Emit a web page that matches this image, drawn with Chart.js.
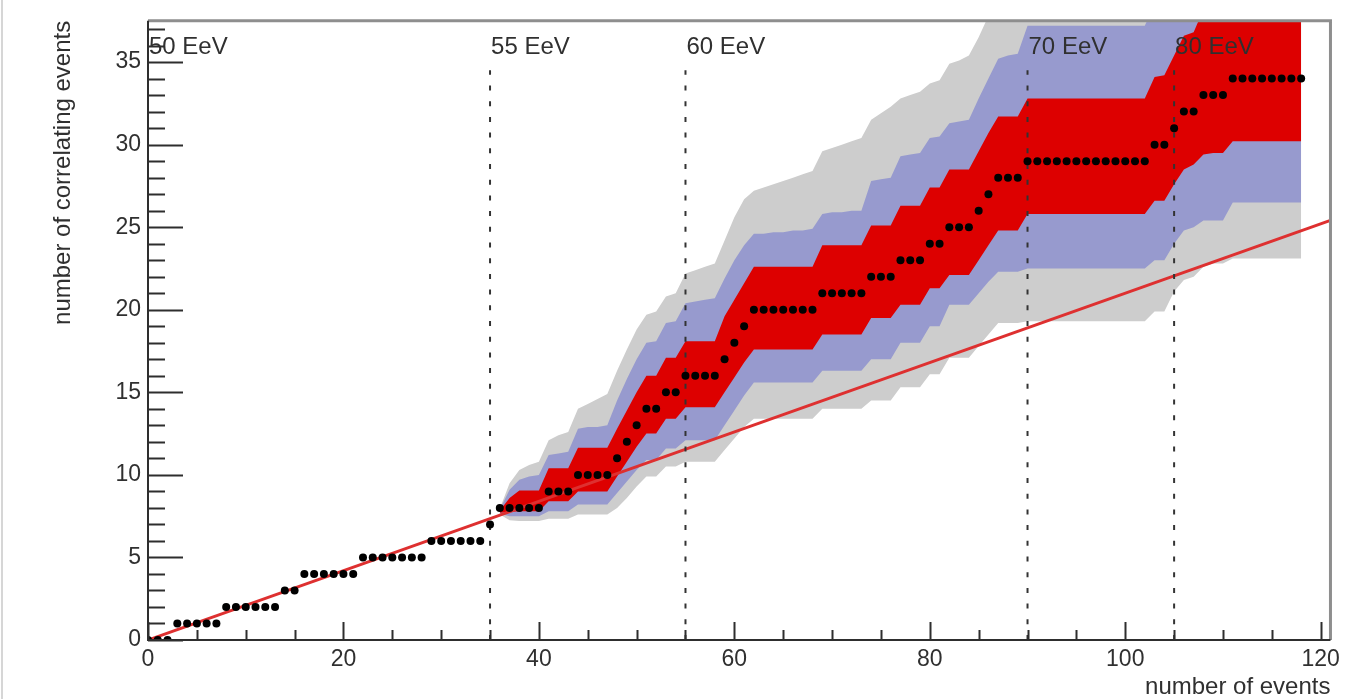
<!DOCTYPE html>
<html><head><meta charset="utf-8">
<script src="https://cdn.jsdelivr.net/npm/chart.js@4.4.1/dist/chart.umd.min.js"></script>
<style>html,body{margin:0;padding:0;background:#fff;overflow:hidden}</style>
</head><body>
<canvas id="c" width="1346" height="699"></canvas>
<script>
// ---- data (x = event index, 0..118) ----
const correlating = [
  0,0,0, 1,1,1,1,1, 2,2,2,2,2,2, 3,3, 4,4,4,4,4,4, 5,5,5,5,5,5,5, 6,6,6,6,6,6,
  7, 8,8,8,8,8, 9,9,9, 10,10,10,10, 11, 12, 13, 14,14, 15,15, 16,16,16,16,
  17, 18, 19, 20,20,20,20,20,20,20, 21,21,21,21,21, 22,22,22, 23,23,23, 24,24,
  25,25,25, 26, 27, 28,28,28, 29,29,29,29,29,29,29,29,29,29,29,29,29,
  30,30, 31, 32,32, 33,33,33, 34,34,34,34,34,34,34,34
];
// confidence bands, for x = 36 .. 118
const bandStart = 36;
const redLo = [7.7,7.75,7.8,7.8,7.8, 8.4,8.4,8.4, 9.0,9.0,9.0,9.0, 9.9, 10.8, 11.7, 12.5,12.5, 13.4,13.4,
  14.1,14.1,14.1,14.1, 15.0, 15.9, 16.8, 17.6,17.6,17.6,17.6,17.6,17.6,17.6, 18.5,18.5,18.5,18.5,18.5,
  19.5,19.5,19.5, 20.3,20.3,20.3, 21.3,21.3, 22.1,22.1,22.1, 23.0, 23.9, 24.8,24.8,24.8,
  25.8,25.8,25.8,25.8,25.8,25.8,25.8,25.8,25.8,25.8,25.8,25.8,25.8, 26.6,26.6, 27.6, 28.5,28.8,
  29.4,29.5,29.5, 30.2,30.2,30.2,30.2,30.2,30.2,30.2,30.2];
const redHi = [7.85,8.6,9.05,9.05,9.05, 10.4,10.4,10.4, 11.65,11.65,11.65,11.65, 12.8, 13.9, 15.0, 16.0,16.0, 17.1,17.1,
  18.1,18.1,18.1,18.1, 19.6, 20.6, 21.6, 22.6,22.6,22.6,22.6,22.6,22.6,22.6, 23.9,23.9,23.9,23.9,23.9,
  25.1,25.1,25.1, 26.3,26.3,26.3, 27.4,27.4, 28.5,28.5,28.5, 29.6, 30.7, 31.7,31.7,31.7,
  32.8,32.8,32.8,32.8,32.8,32.8,32.8,32.8,32.8,32.8,32.8,32.8,32.8, 34.1,34.2, 35.4, 36.6,36.8,
  38.2,38.3,38.4, 39.5,39.5,39.5,39.5,39.5,39.5,39.5,39.5];
const blueLo = [7.65,7.5,7.5,7.5,7.5, 7.8,7.8,7.8, 8.2,8.2,8.2,8.2, 8.9, 9.6, 10.3, 10.9,10.9, 11.6,11.6,
  12.1,12.1,12.1,12.1, 13.0, 13.9, 14.8, 15.6,15.6,15.6,15.6,15.6,15.6,15.6, 16.3,16.3,16.3,16.3,16.3,
  17.0,17.0,17.0, 18.0,18.0,18.0, 19.0,19.0, 20.3,20.3,20.3, 21.0, 21.7, 22.3,22.3,22.3,
  22.5,22.5,22.5,22.5,22.5,22.5,22.5,22.5,22.5,22.5,22.5,22.5,22.5, 23.0,23.0, 24.0, 24.8,25.0,
  25.4,25.4,25.4, 26.5,26.5,26.5,26.5,26.5,26.5,26.5,26.5];
const blueHi = [7.9,9.1,9.7,9.9,10.0, 11.2,11.3,11.4, 12.8,12.9,12.9,13.0, 14.5, 15.8, 17.0, 18.0,18.1, 19.2,19.3,
  20.4,20.5,20.6,20.7, 21.9, 23.0, 23.9, 24.6,24.6,24.7,24.7,24.8,24.8,24.9, 25.8,25.9,25.9,26.0,26.0,
  27.8,27.9,28.0, 29.3,29.4,29.5, 30.4,30.5, 31.3,31.4,31.5, 32.8, 34.0, 35.2,35.4,35.5,
  37.2,37.2,37.2,37.2,37.2,37.2,37.2,37.2,37.2,37.2,37.2,37.2,37.2, 38.5,38.6, 39.8, 41.0,41.2,
  42.4,42.5,42.6, 43.7,43.7,43.7,43.7,43.7,43.7,43.7,43.7];
const greyLo = [7.6,7.25,7.2,7.2,7.2, 7.35,7.35,7.35, 7.6,7.6,7.6,7.6, 8.0, 8.6, 9.3, 9.9,9.9, 10.5,10.5,
  10.8,10.8,10.8,10.8, 11.5, 12.2, 12.9, 13.4,13.4,13.4,13.4,13.4,13.4,13.4, 14.0,14.0,14.0,14.0,14.0,
  14.5,14.5,14.5, 15.3,15.3,15.3, 16.1,16.1, 17.1,17.1,17.1, 17.8, 18.5, 19.2,19.2,19.2,
  19.3,19.3,19.3,19.3,19.3,19.3,19.3,19.3,19.3,19.3,19.3,19.3,19.3, 19.9,19.9, 21.1, 21.8,22.0,
  22.6,22.8,22.8, 23.1,23.1,23.1,23.1,23.1,23.1,23.1,23.1];
const greyHi = [7.95,9.5,10.3,10.6,10.8, 12.1,12.4,12.6, 14.0,14.3,14.6,14.9, 16.3, 17.6, 18.8, 19.7,19.9, 20.8,21.0,
  22.2,22.4,22.6,22.8, 24.2, 25.6, 26.7, 27.2,27.4,27.6,27.8,28.0,28.2,28.4, 29.6,29.8,30.0,30.2,30.4,
  31.5,31.9,32.3, 32.8,33.0,33.2, 33.7,33.9, 34.9,35.1,35.4, 36.5, 37.8, 39.0,39.2,39.4,
  41,41,41,41,41,41,41,41,41,41,41,41,41, 42,42, 43, 44,44,
  45,45,45, 46,46,46,46,46,46,46,46];
// isotropic expectation line (end points)
const isoX = [0, 121];
const isoY = [0, 25.41];
// energy thresholds
const energyX = [0, 35, 55, 90, 105];
const energyLabels = ['50 EeV', '55 EeV', '60 EeV', '70 EeV', '80 EeV'];
const energyLineTop = 34.5;
const energyLabelY = 35.5;
// axes
const xMin = 0, xMax = 121, xMajor = 20, xMinor = 5;
const yMin = 0, yMax = 37.5, yMajor = 5, yMinor = 1;

const pts = (arr, start) => arr.map((v, i) => ({x: start + i, y: v}));
const FONT = "'Liberation Sans', Arial, Helvetica, sans-serif";
const TXT = '#303030';

const datasets = [
  {label:'data', data: pts(correlating, 0), showLine:false, pointRadius:4, pointHoverRadius:4,
   pointBackgroundColor:'#000', pointBorderWidth:0, order:0},
  {label:'iso', data: isoX.map((x,i)=>({x, y: isoY[i]})), borderColor:'rgb(222,48,48)', borderWidth:3,
   pointRadius:0, fill:false, order:1},
];
energyX.forEach((ex) => {
  datasets.push({label:'E', data:[{x:ex,y:0},{x:ex,y:energyLineTop}], borderColor:'#333', borderWidth:2,
    borderDash:[5,10.7], pointRadius:0, fill:false, order:0.5});
});
const bandStyle = [
  ['red', redLo, redHi, 'rgb(221,0,0)', 3],
  ['blue', blueLo, blueHi, 'rgb(151,154,206)', 4],
  ['grey', greyLo, greyHi, 'rgb(205,205,205)', 5],
];
bandStyle.forEach(([name, lo, hi, col, ord]) => {
  const loIdx = datasets.length;
  datasets.push({label: name+'Lo', data: pts(lo, bandStart), borderWidth:0, pointRadius:0, fill:false, order:ord});
  datasets.push({label: name+'Hi', data: pts(hi, bandStart), borderWidth:0, pointRadius:0,
    fill:{target: loIdx}, backgroundColor: col, order:ord});
});

const decor = {
  id:'decor',
  beforeDraw(chart){
    const c = chart.ctx; c.save();
    c.fillStyle='#fff'; c.fillRect(0,0,chart.width,chart.height);
    c.fillStyle='#d6d6d6'; c.fillRect(1,0,2,chart.height);
    c.restore();
  },
  afterDatasetsDraw(chart){
    const c = chart.ctx, a = chart.chartArea, X = chart.scales.x, Y = chart.scales.y;
    c.save();
    // top & right frame
    c.strokeStyle='#8e8e8e'; c.lineWidth=3;
    c.beginPath(); c.moveTo(a.left, a.top); c.lineTo(a.right, a.top); c.lineTo(a.right, a.bottom); c.stroke();
    // axes
    c.strokeStyle='#2e2e2e'; c.lineWidth=2;
    c.beginPath(); c.moveTo(a.left, a.top); c.lineTo(a.left, a.bottom); c.lineTo(a.right, a.bottom); c.stroke();
    // ticks
    c.beginPath();
    for (let i = 0; i * yMinor <= yMax; i++) {
      const v = i * yMinor, py = Math.round(Y.getPixelForValue(v)) + 0.5;
      const len = (Math.abs(v % yMajor) < 1e-9) ? 35 : 17;
      c.moveTo(a.left, py); c.lineTo(a.left + len, py);
    }
    for (let i = 0; i * xMinor <= xMax; i++) {
      const v = i * xMinor, px = Math.round(X.getPixelForValue(v)) + 0.5;
      const len = (Math.abs(v % xMajor) < 1e-9) ? 18 : 10;
      c.moveTo(px, a.bottom); c.lineTo(px, a.bottom - len);
    }
    c.stroke();
    // energy labels
    c.fillStyle = TXT; c.font = '24px ' + FONT; c.textAlign='left'; c.textBaseline='alphabetic';
    energyX.forEach((ex, i) => {
      c.fillText(energyLabels[i], X.getPixelForValue(ex) + 1, Y.getPixelForValue(energyLabelY));
    });
    c.restore();
  }
};

new Chart(document.getElementById('c'), {
  type:'line',
  data:{datasets},
  plugins:[decor],
  options:{
    responsive:false, animation:false, devicePixelRatio:1,
    layout:{padding:{left:0, right:14, top:15, bottom:0}},
    plugins:{legend:{display:false}, tooltip:{enabled:false}},
    elements:{line:{tension:0}},
    scales:{
      x:{type:'linear', min:xMin, max:xMax,
        grid:{display:false, drawTicks:false}, border:{display:false},
        ticks:{stepSize:xMajor, includeBounds:false, padding:6, color:TXT, font:{family:FONT, size:23}, maxRotation:0},
        title:{display:true, text:'number of events', align:'end', color:TXT, font:{family:FONT, size:24, lineHeight:1.0}, padding:{top:0,bottom:0}},
        afterFit(s){ s.height = 59; }
      },
      y:{type:'linear', min:yMin, max:yMax,
        grid:{display:false, drawTicks:false}, border:{display:false},
        ticks:{stepSize:yMajor, includeBounds:false, padding:7, color:TXT, font:{family:FONT, size:23}},
        title:{display:true, text:'number of correlating events', align:'end', color:TXT, font:{family:FONT, size:24, lineHeight:1.0}, padding:{top:51,bottom:0}},
        afterFit(s){ s.width = 148; }
      }
    }
  }
});
</script>
</body></html>
